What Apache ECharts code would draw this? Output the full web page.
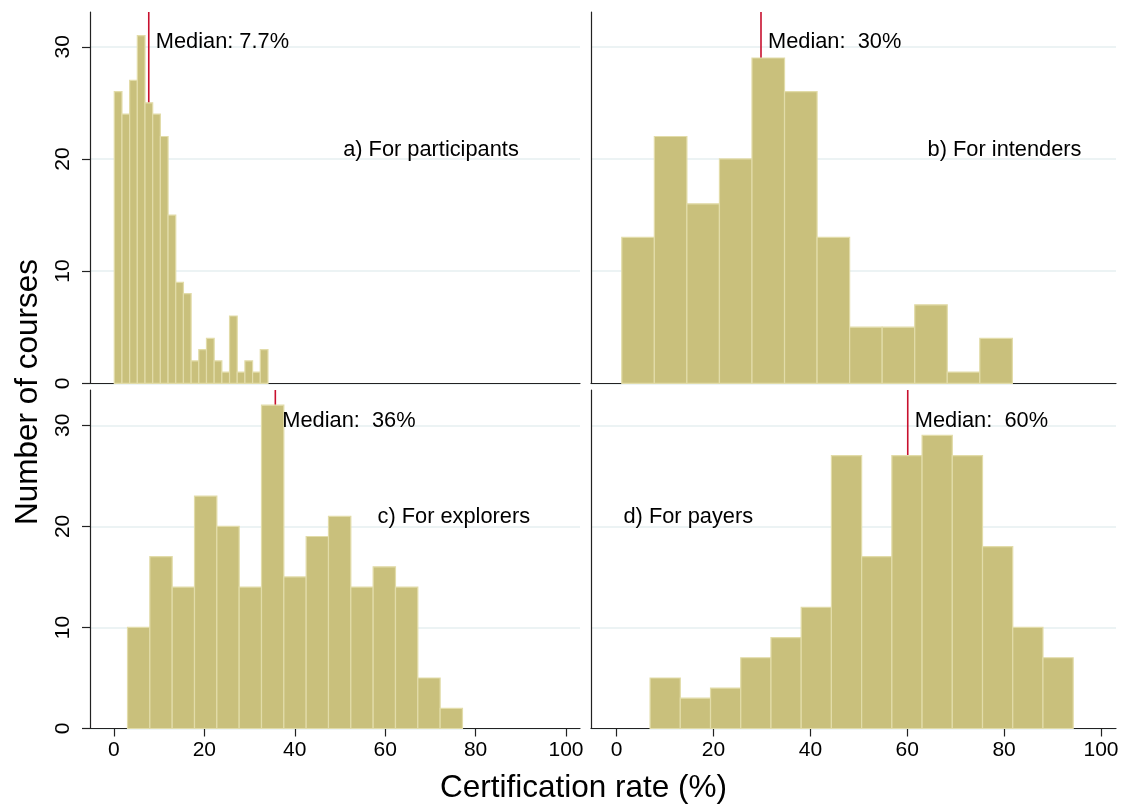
<!DOCTYPE html>
<html>
<head>
<meta charset="utf-8">
<script src="https://cdn.jsdelivr.net/npm/echarts@6/dist/echarts.min.js"></script>
<style>
  html, body { margin: 0; padding: 0; background: #fff; }
  #chart { width: 1123px; height: 806px; }
</style>
</head>
<body>
<div id="chart"></div>
<script>
// ---------------- DATA ----------------
const xTicks = [0, 20, 40, 60, 80, 100];
const yTicks = [0, 10, 20, 30];

// Histogram bins: first bin start, bin width, counts per bin
const participantsStart = 0.07;
const participantsWidth = 1.70;
const participantsCounts = [26, 24, 27, 31, 25, 24, 22, 15, 9, 8, 2, 3, 4, 2, 1, 6, 1, 2, 1, 3];

const intendersStart = 1.06;
const intendersWidth = 6.72;
const intendersCounts = [13, 22, 16, 20, 29, 26, 13, 5, 5, 7, 1, 4];

const explorersStart = 3.0;
const explorersWidth = 4.94;
const explorersCounts = [10, 17, 14, 23, 20, 14, 32, 15, 19, 21, 14, 16, 14, 5, 2];

const payersStart = 6.9;
const payersWidth = 6.24;
const payersCounts = [5, 3, 4, 7, 9, 12, 27, 17, 27, 29, 27, 18, 10, 7];

const medianValues = [7.7, 29.8, 35.7, 60.1];
const medianLabels = ['Median: 7.7%', 'Median:  30%', 'Median:  36%', 'Median:  60%'];
const panelLabels = ['a) For participants', 'b) For intenders', 'c) For explorers', 'd) For payers'];

// ---------------- CHART ----------------
const FONT = '"Liberation Sans", Arial, Helvetica, sans-serif';
const TEXT = '#000';
const BAR_FILL = '#c9c07c';
const BAR_EDGE = '#e2dca9';
const GRID_COLOR = '#e6eff0';
const AXIS_COLOR = '#222';
const MED_COLOR = '#c8102e';
const X_MIN = -5.3, X_MAX = 103.1;
const Y_MAX_TOP = 33.1, Y_MAX_BOT = 33.5;

const chart = echarts.init(document.getElementById('chart'), null, { renderer: 'canvas' });

const grids = [
  { left: 90,  top: 12,  width: 490, height: 371.3 },
  { left: 591, top: 12,  width: 525, height: 371.3 },
  { left: 90,  top: 390, width: 490, height: 338.5 },
  { left: 591, top: 390, width: 525, height: 338.5 }
];

function buildBins(start, width, counts) {
  return counts.map((c, i) => [start + i * width, start + (i + 1) * width, c]);
}
const hist = [
  buildBins(participantsStart, participantsWidth, participantsCounts),
  buildBins(intendersStart, intendersWidth, intendersCounts),
  buildBins(explorersStart, explorersWidth, explorersCounts),
  buildBins(payersStart, payersWidth, payersCounts)
];

const xAxes = grids.map((g, i) => {
  const bottom = i >= 2;
  return {
    type: 'value', gridIndex: i, min: X_MIN, max: X_MAX,
    axisLine: { show: true, onZero: false, lineStyle: { color: AXIS_COLOR, width: 1.2 } },
    axisTick: { show: bottom, length: 8, customValues: xTicks, lineStyle: { color: AXIS_COLOR, width: 1.2 } },
    axisLabel: { show: bottom, customValues: xTicks, margin: 11, fontSize: 21, color: TEXT, fontFamily: FONT },
    splitLine: { show: false }
  };
});

const yAxes = grids.map((g, i) => {
  const left = (i % 2) === 0;
  return {
    type: 'value', gridIndex: i, min: 0, max: i < 2 ? Y_MAX_TOP : Y_MAX_BOT,
    axisLine: { show: true, onZero: false, lineStyle: { color: AXIS_COLOR, width: 1.2 } },
    axisTick: { show: left, length: 8, customValues: yTicks, lineStyle: { color: AXIS_COLOR, width: 1.2 } },
    axisLabel: { show: left, customValues: yTicks, rotate: 90, margin: 16, fontSize: 21, color: TEXT, fontFamily: FONT },
    splitLine: { show: true, lineStyle: { color: GRID_COLOR, width: 1.6 } }
  };
});

function textSeries(i, point, text, distance) {
  return {
    type: 'scatter', xAxisIndex: i, yAxisIndex: i, z: 3,
    symbolSize: 0, silent: true,
    itemStyle: { opacity: 1 },
    data: [point],
    label: {
      show: true, position: 'right', distance: distance,
      formatter: text, opacity: 1,
      fontSize: 21.8, color: TEXT, fontFamily: FONT
    }
  };
}

const series = [];
hist.forEach((bins, i) => {
  const ymax = i < 2 ? Y_MAX_TOP : Y_MAX_BOT;
  // median line (drawn behind bars)
  series.push({
    type: 'line', xAxisIndex: i, yAxisIndex: i, z: 1,
    data: [[medianValues[i], 0], [medianValues[i], ymax]],
    symbol: 'none', silent: true,
    lineStyle: { color: MED_COLOR, width: 1.6 }
  });
  // histogram bars
  series.push({
    type: 'custom', xAxisIndex: i, yAxisIndex: i, z: 2,
    data: bins,
    renderItem: function (params, api) {
      const p0 = api.coord([api.value(0), 0]);
      const p1 = api.coord([api.value(1), api.value(2)]);
      return {
        type: 'rect',
        shape: { x: p0[0], y: p1[1], width: p1[0] - p0[0], height: p0[1] - p1[1] },
        style: { fill: BAR_FILL, stroke: BAR_EDGE, lineWidth: 1.2 }
      };
    },
    encode: { x: [0, 1], y: 2 }
  });
  // median label
  series.push(textSeries(i, [medianValues[i], 30.4], medianLabels[i], 7));
});

// panel labels (annotation anchors in data coordinates)
const panelAnchors = [[50.7, 20.8], [64.2, 20.8], [58.3, 20.9], [1.4, 20.9]];
panelAnchors.forEach((a, i) => {
  series.push(textSeries(i, a, panelLabels[i], 0));
});

chart.setOption({
  animation: false,
  backgroundColor: '#fff',
  grid: grids,
  xAxis: xAxes,
  yAxis: yAxes,
  series: series,
  graphic: [
    {
      type: 'text', x: 583.5, y: 788,
      style: { text: 'Certification rate (%)', fontSize: 31.5, fontFamily: FONT, fill: TEXT, align: 'center', verticalAlign: 'middle' },
      silent: true
    },
    {
      type: 'text', x: 28, y: 392, rotation: Math.PI / 2,
      style: { text: 'Number of courses', fontSize: 31.5, fontFamily: FONT, fill: TEXT, align: 'center', verticalAlign: 'middle' },
      silent: true
    }
  ]
});
</script>
</body>
</html>
